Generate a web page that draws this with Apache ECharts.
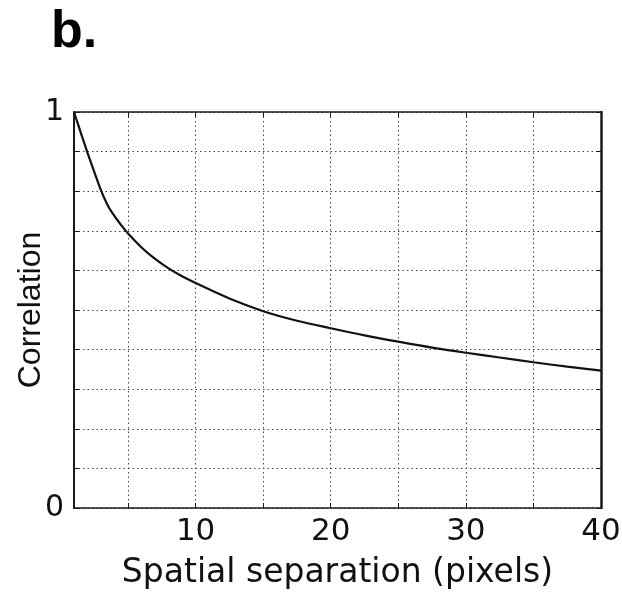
<!DOCTYPE html>
<html>
<head>
<meta charset="utf-8">
<script src="https://cdn.jsdelivr.net/npm/echarts@6/dist/echarts.min.js"></script>
<style>
html,body{margin:0;padding:0;background:#fff;}
#chart{width:622px;height:593px;}
</style>
</head>
<body>
<div id="chart"></div>
<script>
// Spatial separation (pixels)
const separation = [1, 1.5, 2, 2.5, 3, 3.5, 4, 4.5, 5, 6, 7, 8, 9, 10, 12.5, 15, 17.5, 20, 22.5, 25, 27.5, 30, 32.5, 35, 37.5, 40];
// Correlation
const correlation = [1.0, 0.948, 0.897, 0.849, 0.802, 0.764, 0.737, 0.714, 0.693, 0.658, 0.629, 0.605, 0.585, 0.568, 0.529, 0.497, 0.473, 0.454, 0.436, 0.420, 0.405, 0.392, 0.380, 0.368, 0.357, 0.347];
const xLabelValues = [10, 20, 30, 40];
const xTickValues = [5, 10, 15, 20, 25, 30, 35];
const yLabelValues = [0, 1];

const chart = echarts.init(document.getElementById('chart'));
const axisColor = '#1a1a1a';
const gridLine = { show: true, lineStyle: { color: '#444', width: 1, type: [1.5, 3] } };
const horizFont = 'DejaVu Sans';

const option = {
  animation: false,
  backgroundColor: '#fff',
  title: {
    text: 'b.',
    left: 46,
    top: 2,
    textStyle: { fontFamily: 'Liberation Sans', fontWeight: 'bold', fontSize: 52, color: '#000' }
  },
  grid: { left: 74, right: 21, top: 112, bottom: 85, containLabel: false, outerBoundsMode: 'none' },
  xAxis: [{
    type: 'value',
    min: 1, max: 40,
    name: 'Spatial separation (pixels)',
    nameLocation: 'middle',
    nameGap: 49,
    nameMoveOverlap: false,
    nameTextStyle: { fontFamily: horizFont, fontSize: 33, color: '#111' },
    axisLine: { show: true, onZero: false, lineStyle: { color: axisColor, width: 1.5 } },
    axisTick: { show: true, inside: true, length: 5, customValues: xTickValues, lineStyle: { color: axisColor } },
    axisLabel: { customValues: xLabelValues, fontFamily: horizFont, fontSize: 31, color: '#111', margin: 8 },
    splitLine: gridLine
  }, {
    type: 'value',
    position: 'top',
    min: 1, max: 40,
    axisLine: { show: true, onZero: false, lineStyle: { color: axisColor, width: 1.5 } },
    axisTick: { show: true, inside: true, length: 5, customValues: xTickValues, lineStyle: { color: axisColor } },
    axisLabel: { show: false },
    splitLine: { show: false }
  }],
  yAxis: [{
    type: 'value',
    min: 0, max: 1, interval: 0.1,
    name: 'Correlation',
    nameLocation: 'middle',
    nameGap: 27,
    nameMoveOverlap: false,
    nameTextStyle: { fontFamily: 'Liberation Sans', fontSize: 32, color: '#111' },
    axisLine: { show: true, onZero: false, lineStyle: { color: axisColor, width: 2 } },
    axisTick: { show: true, inside: true, length: 5, lineStyle: { color: axisColor } },
    axisLabel: {
      fontFamily: horizFont, fontSize: 30, color: '#111', margin: 10,
      formatter: function (v) {
        for (const t of yLabelValues) { if (Math.abs(v - t) < 1e-9) return String(t); }
        return '';
      }
    },
    splitLine: gridLine
  }, {
    type: 'value',
    position: 'right',
    min: 0, max: 1, interval: 0.1,
    axisLine: { show: true, onZero: false, lineStyle: { color: axisColor, width: 2.5 } },
    axisTick: { show: true, inside: true, length: 5, lineStyle: { color: axisColor } },
    axisLabel: { show: false },
    splitLine: { show: false }
  }],
  series: [{
    type: 'line',
    data: separation.map((x, i) => [x, correlation[i]]),
    smooth: 0.3,
    showSymbol: false,
    symbol: 'none',
    lineStyle: { color: '#111', width: 2.2 },
    z: 5
  }]
};
chart.setOption(option);
</script>
</body>
</html>
